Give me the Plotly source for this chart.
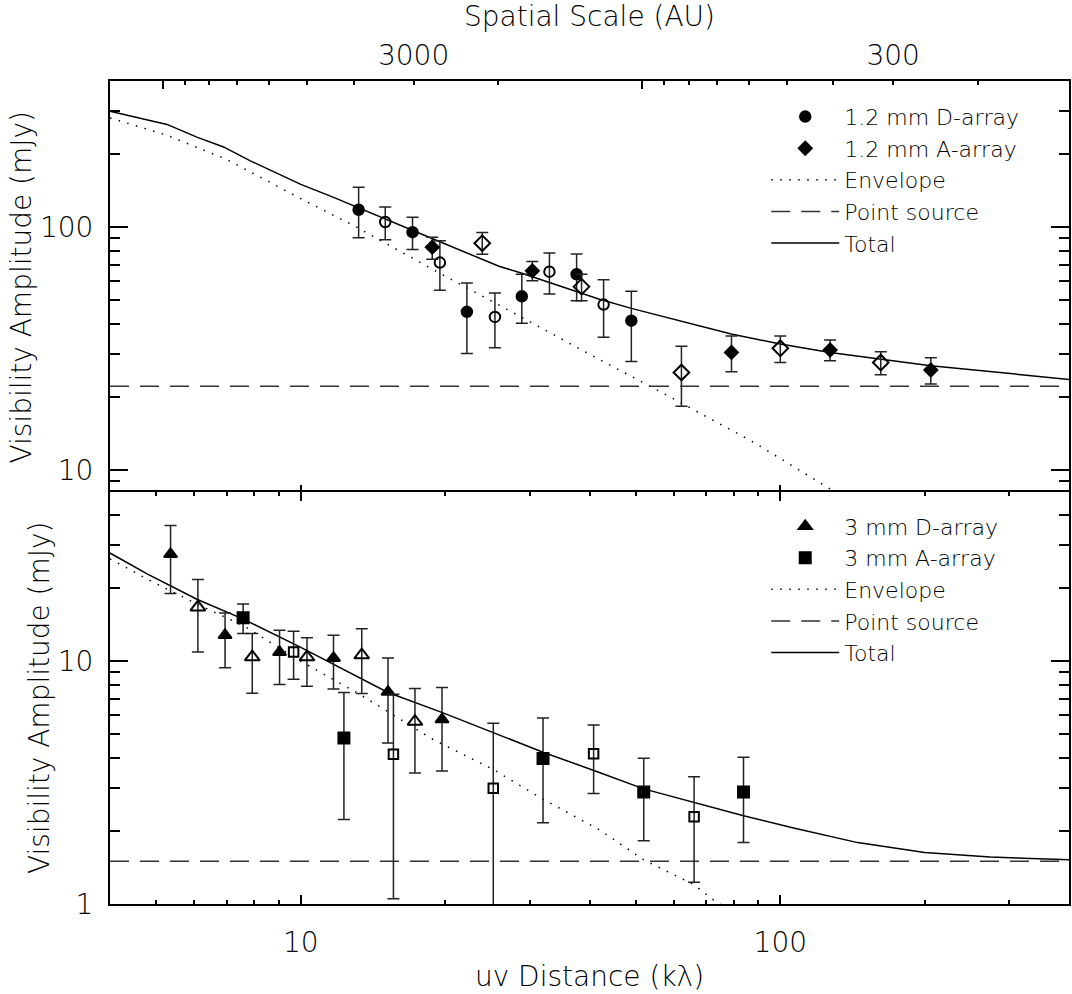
import math
import plotly.graph_objects as go

# ---------------- axis limits / ticks ----------------
UV_RANGE = [4.0, 400.0]          # kilo-lambda
TOP_Y_RANGE = [8.0, 400.0]       # mJy
BOT_Y_RANGE = [1.0, 50.0]        # mJy
DIST_PC = 250.0                  # distance used for the spatial-scale axis

X_MAJOR = [10, 100]
X_MINOR = [5, 6, 7, 8, 9, 20, 30, 40, 50, 60, 70, 80, 90, 200, 300]
TOP_Y_MAJOR = [10, 100]
TOP_Y_MINOR = [9, 20, 30, 40, 50, 60, 70, 80, 90, 200, 300]
BOT_Y_MAJOR = [1, 10]
BOT_Y_MINOR = [2, 3, 4, 5, 6, 7, 8, 9, 20, 30, 40]

AU_LABELED = [3000, 300]
AU_LONG = [10000, 1000]
AU_SHORT = [9000, 8000, 7000, 6000, 5000, 4000, 2000, 900, 800, 700, 600, 500, 400, 200]

# ---------------- top panel: 1.2 mm ----------------
D12_UV = [13.2, 17.1, 22.2, 28.9, 37.6, 48.9]
D12_AMP = [118, 95.4, 44.8, 51.9, 64.0, 41.2]
D12_HI = [146, 110, 58.9, 64.0, 77.6, 54.5]
D12_LO = [90.4, 80.9, 30.2, 40.2, 49.8, 28.0]

D12O_UV = [15.0, 19.5, 25.4, 33.0, 42.8]
D12O_AMP = [105, 71.5, 42.7, 65.6, 48.0]
D12O_HI = [121, 87.9, 53.6, 78.2, 60.7]
D12O_LO = [88.7, 55.0, 31.9, 53.1, 35.2]

A12_UV = [18.8, 30.4, 79.1, 127, 206]
A12_AMP = [82.7, 66.1, 30.5, 31.2, 25.8]
A12_HI = [90.9, 72.2, 35.6, 34.3, 29.0]
A12_LO = [73.8, 60.1, 25.4, 28.2, 22.6]

A12O_UV = [23.9, 38.5, 62.2, 100, 162]
A12O_AMP = [85.9, 56.9, 25.2, 31.7, 27.7]
A12O_HI = [95.1, 64.0, 32.3, 35.6, 30.7]
A12O_LO = [77.4, 49.8, 18.3, 27.7, 24.7]

ENV12_UV = [4.0, 5.26, 7.01, 10.0, 12.84, 18.84, 28.9, 41.8, 55.0, 88.0, 129, 140]
ENV12 = [282, 239, 190, 131, 102, 67, 42.5, 28.6, 21.5, 13.0, 8.2, 7.5]
TOT12_UV = [4.0, 5.26, 6.07, 6.90, 7.83, 10.0, 11.67, 13.2, 18.84, 25.9, 28.9,
            41.8, 48.9, 79.0, 100, 127, 206, 400]
TOT12 = [300, 265, 235, 214, 188, 150, 133, 120, 89.6, 69, 64.6,
         50.6, 46.3, 36.3, 33.0, 30.5, 26.9, 23.6]
POINT12 = 22.1

# ---------------- bottom panel: 3 mm ----------------
D3_UV = [5.35, 6.95, 9.03, 11.7, 15.2, 19.7]
D3_AMP = [27.6, 12.8, 10.9, 10.3, 7.47, 5.76]
D3_HI = [36.2, 15.8, 13.4, 12.8, 10.3, 7.79]
D3_LO = [19.0, 9.39, 8.01, 7.69, 4.60, 3.53]

D3O_UV = [6.10, 7.92, 10.3, 13.4, 17.3]
D3O_AMP = [16.7, 10.4, 10.4, 10.6, 5.64]
D3O_HI = [21.7, 13.0, 12.5, 13.6, 7.72]
D3O_LO = [10.9, 7.38, 7.88, 7.36, 3.46]

A3_UV = [7.58, 12.3, 32.0, 51.9, 83.8]
A3_AMP = [15.1, 4.83, 3.97, 2.89, 2.89]
A3_HI = [17.2, 7.43, 5.83, 3.98, 4.02]
A3_LO = [13.0, 2.23, 2.16, 1.82, 1.79]

A3O_UV = [9.66, 15.6, 25.2, 40.8, 66.1]
A3O_AMP = [10.9, 4.14, 3.00, 4.16, 2.29]
A3O_HI = [13.3, 7.31, 5.55, 5.46, 3.34]
A3O_LO = [8.43, 1.05, 0.5, 2.85, 1.23]

ENV3_UV = [4.0, 4.78, 6.07, 7.59, 10.0, 13.26, 18.84, 25.2, 32.0, 41.8, 51.9, 66.1, 72, 76]
ENV3 = [26.4, 21.8, 17.2, 14.0, 10.0, 7.31, 4.77, 3.58, 2.70, 2.03, 1.52, 1.20, 1.05, 0.98]
TOT3_UV = [4.0, 4.78, 6.07, 7.59, 10.0, 15.2, 19.74, 25.2, 32.0, 41.8, 51.9,
           83.8, 106, 145, 200, 274, 400]
TOT3 = [27.9, 22.9, 18.0, 14.9, 11.4, 7.43, 6.14, 5.08, 4.22, 3.49, 2.98,
        2.31, 2.06, 1.79, 1.63, 1.56, 1.52]
POINT3 = 1.50

# ---------------- styling ----------------
FONT = "DejaVu Sans"
AX_FONT = 28
LEG_FONT = 22
BLACK = "black"
DOT = "1.5px,7.5px"
DASH = "19px,11px"
PLOT_H = 994 - 81 - 90
SPLIT = 0.5
HALF_LINE = 1.0 / PLOT_H   # lets the two 2-px frame lines overlap at the panel boundary


def au_to_uv(au):
    # spatial scale (AU) = distance(pc) * 206.265 / uv(klambda)
    return DIST_PC * 206.265 / au


def errbar(amp, hi, lo):
    return dict(type="data", symmetric=False,
                array=[h - a for a, h in zip(amp, hi)],
                arrayminus=[a - l for a, l in zip(amp, lo)],
                width=6, thickness=1.5, color="#222222")


fig = go.Figure()


def add_panel(xa, ya, leg, env_uv, env, tot_uv, tot, point, series):
    fig.add_trace(go.Scatter(x=env_uv, y=env, mode="lines", name="Envelope",
                             line=dict(color=BLACK, width=1.5, dash=DOT),
                             xaxis=xa, yaxis=ya, legend=leg, legendrank=3))
    fig.add_trace(go.Scatter(x=UV_RANGE, y=[point, point], mode="lines", name="Point source",
                             line=dict(color="#333333", width=1.5, dash=DASH),
                             xaxis=xa, yaxis=ya, legend=leg, legendrank=4))
    fig.add_trace(go.Scatter(x=tot_uv, y=tot, mode="lines", name="Total",
                             line=dict(color=BLACK, width=1.5),
                             xaxis=xa, yaxis=ya, legend=leg, legendrank=5))
    for (name, uv, amp, hi, lo, sym, size, show, rank) in series:
        fig.add_trace(go.Scatter(
            x=uv, y=amp, mode="markers", name=name, showlegend=show,
            marker=dict(symbol=sym, size=size, color=BLACK, line=dict(width=2, color=BLACK)),
            error_y=errbar(amp, hi, lo),
            xaxis=xa, yaxis=ya, legend=leg, legendrank=rank))


add_panel("x", "y", "legend", ENV12_UV, ENV12, TOT12_UV, TOT12, POINT12, [
    ("1.2 mm D-array", D12_UV, D12_AMP, D12_HI, D12_LO, "circle", 10.5, True, 1),
    ("1.2 mm D-array (b)", D12O_UV, D12O_AMP, D12O_HI, D12O_LO, "circle-open", 10.5, False, 6),
    ("1.2 mm A-array", A12_UV, A12_AMP, A12_HI, A12_LO, "diamond", 10, True, 2),
    ("1.2 mm A-array (b)", A12O_UV, A12O_AMP, A12O_HI, A12O_LO, "diamond-open", 12, False, 7),
])
add_panel("x2", "y2", "legend2", ENV3_UV, ENV3, TOT3_UV, TOT3, POINT3, [
    ("3 mm D-array", D3_UV, D3_AMP, D3_HI, D3_LO, "triangle-up", 11.5, True, 1),
    ("3 mm D-array (b)", D3O_UV, D3O_AMP, D3O_HI, D3O_LO, "triangle-up-open", 13, False, 6),
    ("3 mm A-array", A3_UV, A3_AMP, A3_HI, A3_LO, "square", 11, True, 2),
    ("3 mm A-array (b)", A3O_UV, A3O_AMP, A3O_HI, A3O_LO, "square-open", 9.5, False, 7),
])

# invisible anchors for the spatial-scale (top) axes
for xa in ("x3", "x4"):
    fig.add_trace(go.Scatter(x=[X_MAJOR[0]], y=[TOP_Y_MAJOR[1]], mode="markers",
                             marker=dict(opacity=0), showlegend=False, hoverinfo="skip",
                             xaxis=xa, yaxis="y"))

lx = [math.log10(v) for v in UV_RANGE]
tick_font = dict(family=FONT, size=AX_FONT, color=BLACK, weight=300)
leg_font = dict(family=FONT, size=LEG_FONT, color=BLACK, weight=300)

common_x = dict(type="log", range=lx, showgrid=False, zeroline=False,
                ticks="inside", tickmode="array", tickvals=X_MAJOR, ticklen=9,
                tickwidth=1.5, tickcolor=BLACK,
                minor=dict(tickmode="array", tickvals=X_MINOR, ticklen=4,
                           tickwidth=1.5, tickcolor=BLACK, ticks="inside"),
                showline=True, linewidth=2, linecolor=BLACK, tickfont=tick_font)
common_y = dict(type="log", showgrid=False, zeroline=False, ticks="inside",
                tickmode="array", ticklen=18, tickwidth=1.5, tickcolor=BLACK,
                showline=True, linewidth=2, linecolor=BLACK, mirror="ticks",
                tickfont=tick_font, ticklabelstandoff=9,
                title=dict(text="Visibility Amplitude (mJy)", font=tick_font, standoff=0))

fig.update_layout(
    width=1072, height=994,
    margin=dict(l=110, r=1, t=81, b=90),
    paper_bgcolor="white", plot_bgcolor="white",
    font=dict(family=FONT, color=BLACK, weight=300),
    xaxis=dict(common_x, domain=[0, 1], anchor="y", showticklabels=False, mirror=True),
    xaxis2=dict(common_x, domain=[0, 1], anchor="y2", mirror="ticks",
                ticklabelstandoff=12,
                title=dict(text="uv Distance (kλ)", font=tick_font, standoff=9)),
    xaxis3=dict(type="log", range=lx, overlaying="x", side="top", anchor="y",
                showgrid=False, zeroline=False, showline=False,
                ticks="inside", tickmode="array",
                tickvals=[au_to_uv(a) for a in AU_LABELED],
                ticktext=[str(a) for a in AU_LABELED],
                ticklen=4, tickwidth=1.5, tickcolor=BLACK, tickfont=tick_font,
                ticklabelstandoff=9,
                minor=dict(tickmode="array", tickvals=[au_to_uv(a) for a in AU_SHORT],
                           ticklen=4, tickwidth=1.5, tickcolor=BLACK, ticks="inside"),
                title=dict(text="Spatial Scale (AU)", font=tick_font, standoff=9)),
    xaxis4=dict(type="log", range=lx, overlaying="x", side="top", anchor="y",
                showgrid=False, zeroline=False, showline=False, showticklabels=False,
                ticks="inside", tickmode="array",
                tickvals=[au_to_uv(a) for a in AU_LONG],
                ticklen=8, tickwidth=1.5, tickcolor=BLACK),
    yaxis=dict(common_y, domain=[SPLIT - HALF_LINE, 1], anchor="x",
               range=[math.log10(v) for v in TOP_Y_RANGE], tickvals=TOP_Y_MAJOR,
               minor=dict(tickmode="array", tickvals=TOP_Y_MINOR, ticklen=10,
                          tickwidth=1.5, tickcolor=BLACK, ticks="inside")),
    yaxis2=dict(common_y, domain=[0, SPLIT + HALF_LINE], anchor="x2",
                range=[math.log10(v) for v in BOT_Y_RANGE], tickvals=BOT_Y_MAJOR,
                minor=dict(tickmode="array", tickvals=BOT_Y_MINOR, ticklen=10,
                           tickwidth=1.5, tickcolor=BLACK, ticks="inside")),
    legend=dict(x=0.6843, y=0.982, xanchor="left", yanchor="top", itemwidth=68,
                bgcolor="rgba(0,0,0,0)", font=leg_font),
    legend2=dict(x=0.6843, y=0.4844, xanchor="left", yanchor="top", itemwidth=68,
                 bgcolor="rgba(0,0,0,0)", font=leg_font),
    showlegend=True,
)

fig.write_html("out.html", config={"displayModeBar": False},
               post_script="document.body.style.margin='0';document.body.style.padding='0';")
